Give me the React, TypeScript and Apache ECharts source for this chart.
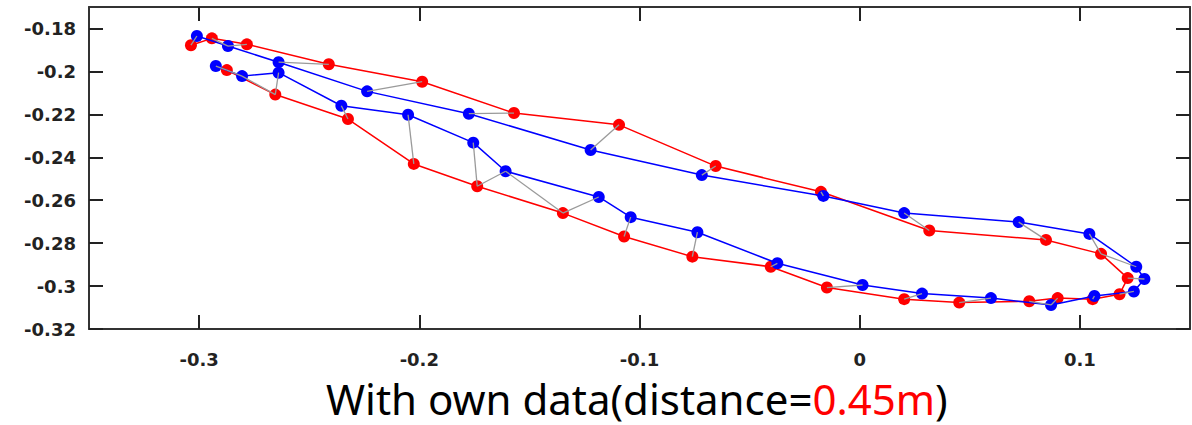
import React, { useEffect, useRef } from "react";
import * as echarts from "echarts";

// Red trajectory (in path order)
const redX = [
  -0.2874, -0.2654, -0.2324, -0.2025, -0.1737, -0.1348, -0.107, -0.076, -0.0404, -0.0149,
  0.0202, 0.0452, 0.077, 0.0899, 0.1058, 0.118, 0.1217, 0.1096, 0.0846, 0.0316,
  -0.0176, -0.0654, -0.1093, -0.157, -0.1987, -0.2411, -0.2783, -0.2942, -0.3037,
];
const redY = [
  -0.1994, -0.2108, -0.2222, -0.2431, -0.2535, -0.266, -0.2769, -0.2863, -0.291, -0.3007,
  -0.3061, -0.3077, -0.3071, -0.3056, -0.3061, -0.3038, -0.2963, -0.285, -0.2785, -0.2741,
  -0.2561, -0.2441, -0.2249, -0.2194, -0.2048, -0.1967, -0.1874, -0.1846, -0.1878,
];

// Blue trajectory (in path order)
const blueX = [
  -0.2924, -0.2805, -0.2639, -0.2354, -0.2051, -0.1755, -0.1608, -0.1185, -0.104, -0.0737,
  -0.0374, 0.0013, 0.0283, 0.0596, 0.0869, 0.1066, 0.1245, 0.1293, 0.1256, 0.1043,
  0.0722, 0.0202, -0.0165, -0.0717, -0.1222, -0.1775, -0.2237, -0.2639, -0.2869, -0.301,
];
const blueY = [
  -0.1975, -0.2022, -0.2006, -0.216, -0.2202, -0.2332, -0.2465, -0.2585, -0.2679, -0.2749,
  -0.2894, -0.2995, -0.3035, -0.3056, -0.3088, -0.3046, -0.3025, -0.2967, -0.291, -0.2757,
  -0.2702, -0.266, -0.258, -0.2483, -0.2366, -0.2197, -0.2093, -0.1957, -0.1882, -0.1835,
];

// Matched pairs [red index, blue index] (gray links)
const pairs = [
  [0, 0], [0, 1], [1, 1], [1, 2], [2, 3], [3, 4], [4, 5], [4, 6], [5, 6], [5, 7],
  [6, 8], [7, 9], [8, 10], [9, 11], [10, 12], [11, 13], [12, 14], [13, 14], [14, 15], [15, 16],
  [16, 17], [17, 18], [17, 19], [18, 20], [19, 21], [20, 22], [21, 23], [22, 24], [23, 25], [24, 26],
  [25, 27], [26, 28], [27, 28], [28, 29],
];

const xTicks = [-0.3, -0.2, -0.1, 0, 0.1];
const yTicks = [-0.32, -0.3, -0.28, -0.26, -0.24, -0.22, -0.2, -0.18];

const titleMain = "With own data(distance=";
const titleValue = "0.45m";
const titleEnd = ")";

const fmt = (v: number) => {
  const n = parseFloat(Number(v).toFixed(3));
  return n === 0 ? "0" : String(n);
};

export default function App() {
  const ref = useRef<HTMLDivElement>(null);
  useEffect(() => {
    if (!ref.current) return;
    const chart = echarts.init(ref.current, undefined, { renderer: "svg" });
    const labelStyle = {
      fontFamily: "DejaVu Sans",
      fontWeight: "bold" as const,
      fontSize: 18,
      color: "#222",
      formatter: (v: number) => fmt(v),
    };
    const axisLine = { show: true, onZero: false, lineStyle: { color: "#333", width: 2 } };
    const tickStyle = { lineStyle: { color: "#222", width: 2 } };
    chart.setOption({
      animation: false,
      backgroundColor: "#fff",
      grid: { left: 89, top: 7, right: 2, bottom: 96 },
      title: {
        text: `{a|${titleMain}}{b|${titleValue}}{a|${titleEnd}}`,
        left: 326,
        top: 378,
        padding: 0,
        textStyle: {
          rich: {
            a: { fontFamily: "Noto Sans", fontSize: 42, lineHeight: 40, color: "#000", fontWeight: "normal" },
            b: { fontFamily: "Noto Sans", fontSize: 42, lineHeight: 40, color: "#ff0000", fontWeight: "normal" },
          },
        },
      },
      xAxis: [
        {
          type: "value",
          position: "bottom",
          min: -0.35,
          max: 0.15,
          axisLine,
          splitLine: { show: false },
          axisTick: { show: true, inside: true, length: 14, customValues: xTicks, ...tickStyle },
          axisLabel: { ...labelStyle, margin: 21, customValues: xTicks },
        },
        {
          type: "value",
          position: "top",
          min: -0.35,
          max: 0.15,
          axisLine,
          splitLine: { show: false },
          axisTick: { show: true, inside: true, length: 14, customValues: xTicks, ...tickStyle },
          axisLabel: { show: false },
        },
      ],
      yAxis: [
        {
          type: "value",
          position: "left",
          min: -0.32,
          max: -0.17,
          axisLine,
          splitLine: { show: false },
          axisTick: { show: true, inside: true, length: 14, customValues: yTicks, ...tickStyle },
          axisLabel: { ...labelStyle, margin: 13, customValues: yTicks },
        },
        {
          type: "value",
          position: "right",
          min: -0.32,
          max: -0.17,
          axisLine,
          splitLine: { show: false },
          axisTick: { show: true, inside: true, length: 14, customValues: yTicks, ...tickStyle },
          axisLabel: { show: false },
        },
      ],
      series: [
        {
          type: "line",
          data: redX.map((x, i) => [x, redY[i]]),
          color: "#ff0000",
          lineStyle: { color: "#ff0000", width: 1.5 },
          symbol: "circle",
          symbolSize: 12,
          itemStyle: { color: "#ff0000" },
          z: 2,
        },
        {
          type: "line",
          data: blueX.map((x, i) => [x, blueY[i]]),
          color: "#0000ff",
          lineStyle: { color: "#0000ff", width: 1.5 },
          symbol: "circle",
          symbolSize: 12,
          itemStyle: { color: "#0000ff" },
          z: 3,
        },
        {
          type: "lines",
          coordinateSystem: "cartesian2d",
          data: pairs.map(([r, b]) => ({
            coords: [
              [redX[r], redY[r]],
              [blueX[b], blueY[b]],
            ],
          })),
          lineStyle: { color: "#9a9a9a", width: 1.3, opacity: 1 },
          z: 5,
        },
      ],
    });
    return () => chart.dispose();
  }, []);
  return (
    <div
      ref={ref}
      style={{ position: "fixed", left: 0, top: 0, width: 1192, height: 425, background: "#fff" }}
    />
  );
}
